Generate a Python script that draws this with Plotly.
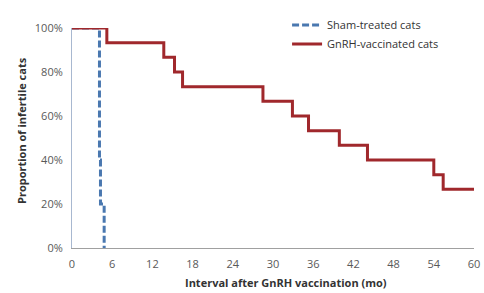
import plotly.graph_objects as go

# Step data (months, proportion infertile)
gnrh_months = [0, 5.2, 13.7, 15.3, 16.5, 28.5, 32.9, 35.3, 39.9, 44.1, 54.0, 55.4, 60]
gnrh_prop = [1.0, 0.933, 0.867, 0.80, 0.733, 0.667, 0.60, 0.533, 0.467, 0.40, 0.333, 0.267, 0.267]

sham_months = [0, 4.1, 4.1, 4.25, 4.25, 4.8, 4.8]
sham_prop = [1.0, 1.0, 0.40, 0.40, 0.20, 0.20, 0.0]

x_ticks = [0, 6, 12, 18, 24, 30, 36, 42, 48, 54, 60]
y_ticks = [0, 0.2, 0.4, 0.6, 0.8, 1.0]

x_title = "Interval after GnRH vaccination (mo)"
y_title = "Proportion of infertile cats"

fig = go.Figure()
fig.add_trace(go.Scatter(
    x=sham_months, y=sham_prop, mode="lines", name="Sham-treated cats",
    line=dict(color="#4A78B0", width=3, dash="7px,3px"),
))
fig.add_trace(go.Scatter(
    x=gnrh_months, y=gnrh_prop, mode="lines", name="GnRH-vaccinated cats",
    line=dict(color="#A0282C", width=3, shape="hv"),
))

font_family = "Open Sans, Liberation Sans, sans-serif"
fig.update_layout(
    width=484, height=293,
    margin=dict(l=72, r=10, t=28, b=45, autoexpand=False),
    paper_bgcolor="white", plot_bgcolor="white",
    font=dict(family=font_family, size=11, color="#404040"),
    showlegend=True,
    legend=dict(x=0.535, y=1.08, xanchor="left", yanchor="top",
                bgcolor="rgba(0,0,0,0)", font=dict(size=11, color="#333333"),
                itemwidth=30, tracegroupgap=2),
    xaxis=dict(
        range=[0, 60], tickvals=x_ticks, showgrid=False, zeroline=False,
        showline=True, linecolor="#A0A0A0", linewidth=1, automargin=False,
        ticks="", tickfont=dict(size=11, color="#595959"),
        ticklabelstandoff=6, ticklabeloverflow="allow",
    ),
    yaxis=dict(
        range=[0, 1.0], tickvals=y_ticks, tickformat=".0%", showgrid=False,
        zeroline=False, showline=True, linecolor="#A8B8D0", linewidth=1,
        automargin=False,
        ticks="", tickfont=dict(size=11, color="#595959"),
        ticklabelstandoff=6,
    ),
    annotations=[
        dict(text="<b>" + x_title + "</b>", xref="paper", yref="paper",
             x=0.532, y=-0.159, xanchor="center", yanchor="middle",
             showarrow=False, font=dict(size=11, color="#333333")),
        dict(text="<b>" + y_title + "</b>", xref="paper", yref="paper",
             x=-0.127, y=0.536, xanchor="center", yanchor="middle",
             textangle=-90, showarrow=False,
             font=dict(size=11, color="#333333")),
    ],
)

fig.write_html("out.html",
               config={"displayModeBar": False},
               post_script="document.body.style.margin='0px';"
                           "document.body.style.overflow='hidden';")
